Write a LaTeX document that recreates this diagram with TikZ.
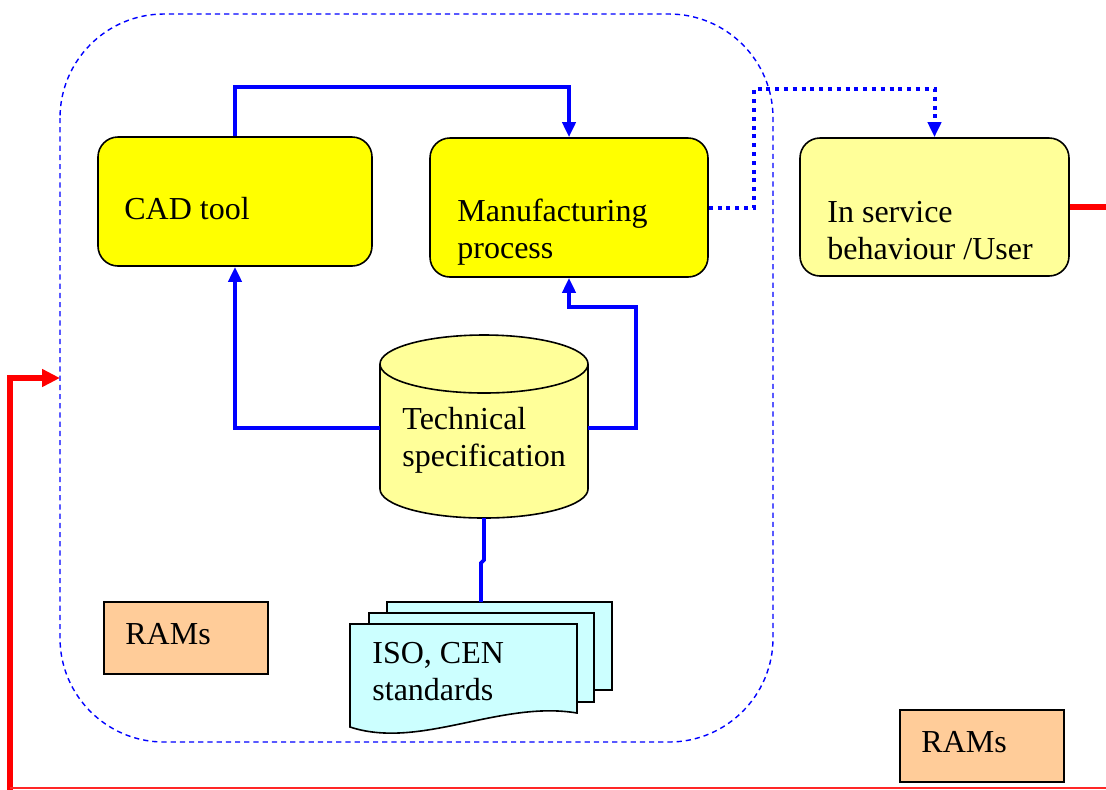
\documentclass[tikz,border=0pt]{standalone}
\usepackage{fontspec}
\setmainfont{Liberation Serif}
\usetikzlibrary{arrows.meta}
\definecolor{boxyellow}{HTML}{FFFF00}
\definecolor{paleyellow}{HTML}{FFFF99}
\definecolor{palecyan}{HTML}{CCFFFF}
\definecolor{peach}{HTML}{FFCC99}
\definecolor{linkblue}{HTML}{0000FF}
\definecolor{loopred}{HTML}{FF0000}
\tikzset{
  procbox/.style={draw=black, line width=0.8pt, rounded corners=10pt, inner sep=0pt},
  ramsbox/.style={draw=black, line width=0.8pt, fill=peach, inner sep=0pt,
    minimum width=82pt, minimum height=36pt},
  label/.style={anchor=base west, inner sep=0pt, font=\fontsize{16}{18.5}\selectfont, align=left},
  flow/.style={draw=linkblue, line width=1.9pt, -{Triangle[width=6.5pt,length=7.5pt]}},
  flowplain/.style={draw=linkblue, line width=1.9pt},
  dotflow/.style={draw=linkblue, line width=2pt, dash pattern=on 2pt off 2.4pt,
    -{Triangle[width=6.5pt,length=7.5pt]}},
  scope/.style={draw=linkblue, line width=0.7pt, dash pattern=on 2.6pt off 2pt, rounded corners=52pt},
  sheet/.style={draw=black, line width=0.8pt, fill=palecyan},
  feedback/.style={draw=loopred, line width=2.8pt}
}
\begin{document}
\begin{tikzpicture}[x=0.5pt, y=-0.5pt]
\useasboundingbox (0,0) rectangle (1106,789);

% design scope boundary
\draw[scope] (60,14) rectangle (773,742);

% process boxes
\node[procbox, fill=boxyellow, minimum width=137pt, minimum height=64.5pt] (cad) at (235,201.5) {};
\node[procbox, fill=boxyellow, minimum width=139pt, minimum height=69.5pt] (manu) at (569,207.5) {};
\node[procbox, fill=paleyellow, minimum width=134.5pt, minimum height=69pt] (svc) at (934.5,207) {};
% (two-line labels are placed by the baseline of their last line)
\node[label] (cadtxt) at (124,219) {CAD tool};
\node[label] (manutxt) at (457,258) {Manufacturing\\process};
\node[label] (svctxt) at (827,259) {In service\\behaviour /User};

% technical specification store (cylinder); y grows downward here
\draw[black, line width=0.8pt, fill=paleyellow]
  (380,364) -- (380,489) arc[start angle=180, end angle=0, x radius=104, y radius=29]
  -- (588,364) arc[start angle=0, end angle=-180, x radius=104, y radius=29] -- cycle;
\draw[black, line width=0.8pt]
  (380,364) arc[start angle=180, end angle=0, x radius=104, y radius=29];
\coordinate (specL) at (380,428);
\coordinate (specR) at (588,428);
\coordinate (specB) at (484,518);
\node[label] (spectxt) at (402,466) {Technical\\specification};

% standards documents (stacked sheets)
\draw[sheet] (387,602) rectangle (612,690);
\draw[sheet] (369,613) rectangle (594,702);
\draw[sheet] (350,624) -- (577,624) -- (577,713)
  .. controls (500,700) and (420,750) .. (350,727) -- cycle;
\coordinate (stdtop) at (481,602);
\node[label] (stdtxt) at (372,700) {ISO, CEN\\standards};

% RAMs boxes
\node[ramsbox] (rams1) at (186,638) {};
\node[label] at (125,644) {RAMs};
\node[ramsbox] (rams2) at (982,746) {};
\node[label] at (921,752) {RAMs};

% information flows
\draw[flow] (cad.north) -- ++(0,-49) -| (manu.north);
\draw[flow] (specL) -| (cad.south);
\draw[flow] (specR) -- (636,428) -- (636,307) -| (manu.south);
\draw[flowplain] (specB) -- (484,560) -- (481,563) -- (stdtop);

% hand-over to in-service use
\coordinate (hop) at (754,89);
\draw[dotflow] (manu.east) -| (hop) -| (svc.north);

% feedback loop from service back into design
\coordinate (fbout) at (1106,207);
\draw[feedback] (svc.east) -- (fbout);
\coordinate (fbin) at (60,378);
\coordinate (fbcorner) at (10,378);
\coordinate (fbbase) at (10,790);
\draw[feedback, -{Triangle[width=8.5pt,length=9pt]}] (fbbase) -- (fbcorner) -- (fbin);
\coordinate (fbleft) at (10,787.5);
\coordinate (fbright) at (1106,787.5);
\draw[draw=loopred!85, line width=1pt] (fbleft) -- (fbright);
\end{tikzpicture}
\end{document}
